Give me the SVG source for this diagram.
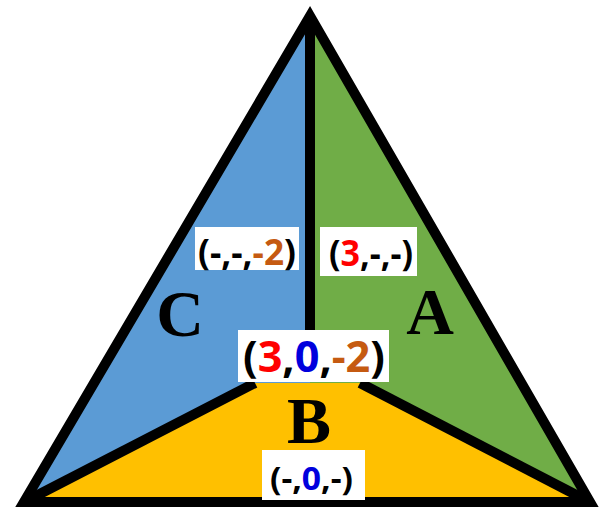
<svg xmlns="http://www.w3.org/2000/svg" width="600" height="509" viewBox="0 0 600 509">
<style>
.reg{stroke:none}
.edge{fill:none;stroke:#000;stroke-width:10;stroke-linejoin:miter;stroke-linecap:butt}
.box{fill:#fff}
.lbl{font-family:"Open Sans","Liberation Sans",sans-serif;font-weight:bold;fill:#000}
.big{font-family:"Liberation Serif",serif;font-weight:bold;font-size:66px;fill:#000;text-anchor:middle}
.r{fill:#FF0000}.b{fill:#0000DD}.o{fill:#C55A11}
</style>
<g id="regionC"><polygon class="reg" points="310,18 22,503 255,383 310,383" fill="#5B9BD5"/></g>
<g id="regionA"><polygon class="reg" points="310,18 592,503 360,383 310,383" fill="#70AD47"/></g>
<g id="regionB"><polygon class="reg" points="22,503 255,383 360,383 592,503" fill="#FFC000"/></g>
<g id="connectors">
<line class="edge" x1="310" y1="20" x2="310" y2="340"/>
<line class="edge" x1="30" y1="499" x2="255" y2="383"/>
<line class="edge" x1="584" y1="499" x2="360" y2="383"/>
<polygon class="edge" points="310,16 590,502 24,502"/>
</g>
<g id="labelC"><text class="big" x="180" y="336">C</text></g>
<g id="labelA"><text class="big" x="430" y="334">A</text></g>
<g id="labelB"><text class="big" x="309" y="443" font-size="62">B</text></g>
<g id="boxC"><rect class="box" x="195" y="227" width="104" height="43"/><text class="lbl" x="198" y="265" font-size="35" textLength="98" lengthAdjust="spacingAndGlyphs">(-,-,<tspan class="o">-2</tspan>)</text></g>
<g id="boxA"><rect class="box" x="320" y="227" width="97" height="49"/><text class="lbl" x="329" y="266" font-size="35" textLength="84" lengthAdjust="spacingAndGlyphs">(<tspan class="r">3</tspan>,-,-)</text></g>
<g id="boxCenter"><rect class="box" x="238" y="330" width="151" height="52"/><text class="lbl" x="243" y="372" font-size="43" textLength="142" lengthAdjust="spacingAndGlyphs">(<tspan class="r">3</tspan>,<tspan class="b">0</tspan>,<tspan class="o">-2</tspan>)</text></g>
<g id="boxB"><rect class="box" x="262" y="450" width="103" height="50"/><text class="lbl" x="270" y="490" font-size="33" textLength="83" lengthAdjust="spacingAndGlyphs">(-,<tspan class="b">0</tspan>,-)</text></g>
</svg>
